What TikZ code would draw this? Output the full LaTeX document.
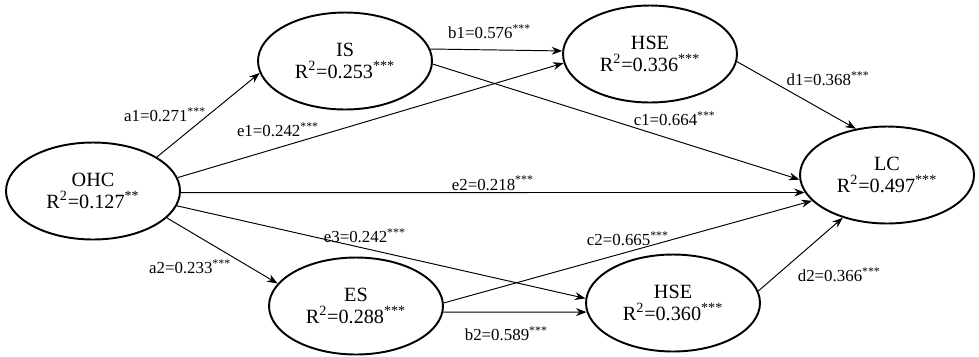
\documentclass[tikz,border=0pt]{standalone}
\usepackage{fontspec}
\setmainfont{Liberation Serif}
\usepackage{tikz}
\usetikzlibrary{shapes.geometric, arrows.meta}

\begin{document}
\begin{tikzpicture}[
        x=0.02cm, y=-0.02cm,
        latent/.style={ellipse, draw=black, line width=1.1pt, minimum width=3.48cm,
            minimum height=1.94cm, inner sep=1pt, align=center,
            font=\fontsize{11.5}{12.5}\selectfont},
        flow/.style={draw, line width=0.55pt, -{Stealth[length=6pt, width=4.5pt]}},
        lbl/.style={font=\fontsize{9.6}{11}\selectfont, inner sep=1pt}
    ]
    \useasboundingbox (0,0) rectangle (979,356);
    \node [latent] (ohc) at (93,191) {OHC\\ R\textsuperscript{2}=0.127\textsuperscript{**}};
    \node [latent] (is) at (345,61) {IS\\ R\textsuperscript{2}=0.253\textsuperscript{***}};
    \node [latent] (hseup) at (650,54) {HSE\\ R\textsuperscript{2}=0.336\textsuperscript{***}};
    \node [latent] (lc) at (887,175) {LC\\ R\textsuperscript{2}=0.497\textsuperscript{***}};
    \node [latent] (es) at (356,306) {ES\\ R\textsuperscript{2}=0.288\textsuperscript{***}};
    \node [latent] (hsedown) at (673,303) {HSE\\ R\textsuperscript{2}=0.360\textsuperscript{***}};

    \draw [flow] (ohc.28) -- node[lbl, left, pos=0.5] {a1=0.271\textsuperscript{***}} (is.188);
    \draw [flow] (ohc.9) -- node[lbl, above=5pt, pos=0.26] {e1=0.242\textsuperscript{***}} (hseup.186);
    \draw [flow] (is.8) -- node[lbl, above=5pt, pos=0.45] {b1=0.576\textsuperscript{***}} (hseup.178);
    \draw [flow] (is.-2) -- node[lbl, above=7pt, pos=0.66] {c1=0.664\textsuperscript{***}} (lc.183);
    \draw [flow] (hseup.-5) -- node[lbl, above right, pos=0.4] {d1=0.368\textsuperscript{***}} (lc.124);
    \draw [flow] (ohc.-1.5) -- node[lbl, above] {e2=0.218\textsuperscript{***}} (lc.192);
    \draw [flow] (ohc.-10) -- node[lbl, above=2pt, pos=0.46] {e3=0.242\textsuperscript{***}} (hsedown.177);
    \draw [flow] (ohc.-20) -- node[lbl, below left, pos=0.6] {a2=0.233\textsuperscript{***}} (es.164);
    \draw [flow] (es.2) -- node[lbl, above=2pt, pos=0.5] {c2=0.665\textsuperscript{***}} (lc.199);
    \draw [flow] (es.-4) -- node[lbl, below=7pt, pos=0.44] {b2=0.589\textsuperscript{***}} (hsedown.186);
    \draw [flow] (hsedown.8) -- node[lbl, below right=2pt, pos=0.4] {d2=0.366\textsuperscript{***}} (lc.224);
\end{tikzpicture}
\end{document}
